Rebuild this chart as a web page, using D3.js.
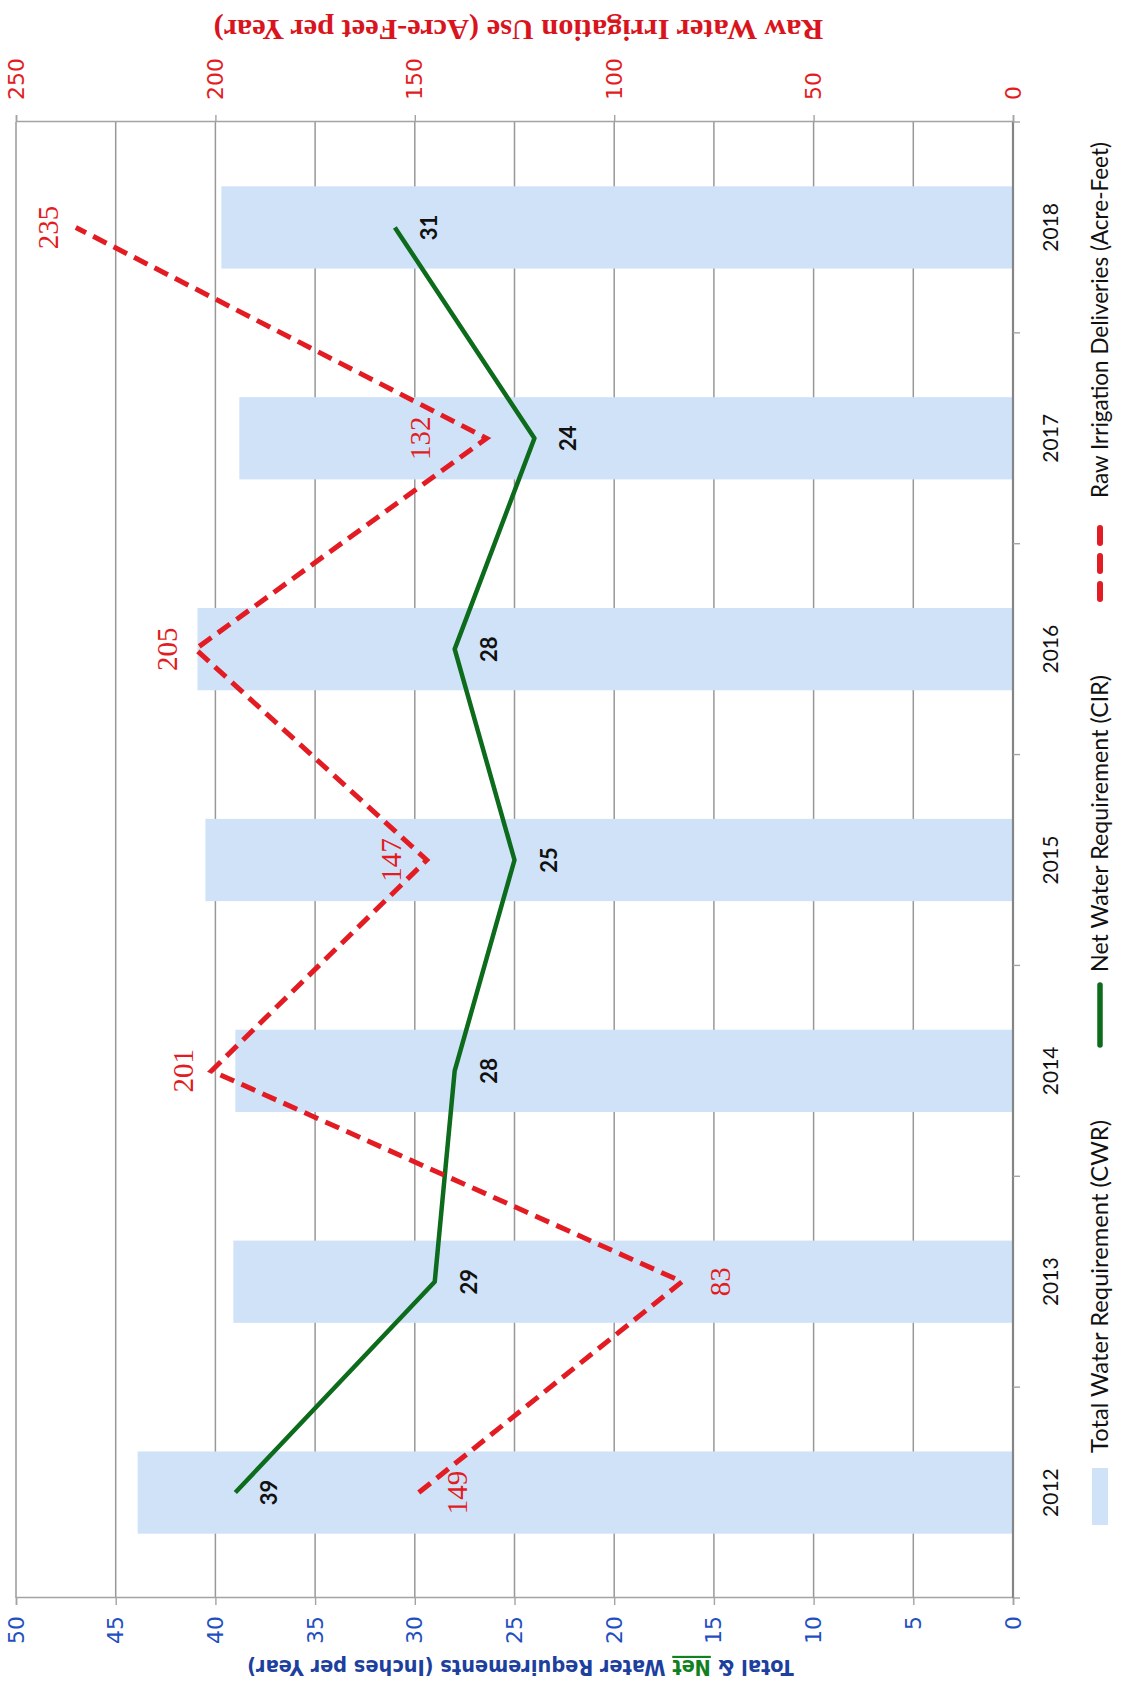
<!DOCTYPE html>
<html>
<head>
<meta charset="utf-8">
<script src="https://cdn.jsdelivr.net/npm/d3@7"></script>
<style>
  html, body { margin: 0; padding: 0; background: #ffffff; }
  svg { display: block; }
</style>
</head>
<body>
<script>
// ---- data ----
const years = ["2012", "2013", "2014", "2015", "2016", "2017", "2018"];
const totalWaterCWR = [43.9, 39.1, 39.0, 40.5, 40.9, 38.8, 39.7];   // inches per year (bars)
const netWaterCIR = [39, 29, 28, 25, 28, 24, 31];                   // inches per year (green line)
const rawDeliveries = [149, 83, 201, 147, 205, 132, 235];           // acre-feet (red dashed line)
const rawLabelSide = ["below", "below", "above", "above", "above", "above", "above"];
const inchTicks = [0, 5, 10, 15, 20, 25, 30, 35, 40, 45, 50];
const acreFeetTicks = [0, 50, 100, 150, 200, 250];
const legendLabels = [
  "Total Water Requirement (CWR)",
  "Net Water Requirement (CIR)",
  "Raw Irrigation Deliveries (Acre-Feet)"
];

// ---- page and chart frame ----
// The chart is laid out in a landscape frame (1690 x 1128) and turned a
// quarter turn counter-clockwise to sit on the portrait page.
const PAGE_W = 1128, PAGE_H = 1690;
const svg = d3.select("body").append("svg")
  .attr("width", PAGE_W).attr("height", PAGE_H)
  .attr("viewBox", `0 0 ${PAGE_W} ${PAGE_H}`);
svg.append("rect").attr("width", PAGE_W).attr("height", PAGE_H).attr("fill", "#ffffff");

const g = svg.append("g").attr("transform", `translate(0,${PAGE_H}) rotate(-90)`);

const plot = { left: 92, right: 1568, top: 16, bottom: 1013 };

const x = d3.scaleBand().domain(years).range([plot.left, plot.right]).padding(0);
const bw = x.bandwidth();
const barW = bw * 0.39;
const yIn = d3.scaleLinear().domain([0, 50]).range([plot.bottom, plot.top]);
const yAf = d3.scaleLinear().domain([0, 250]).range([plot.bottom, plot.top]);
const cx = d => x(d) + bw / 2;

const COLORS = {
  bar: "#cfe2f8",
  grid: "#989898",
  axis: "#a3a3a3",
  catAxis: "#858585",
  green: "#0d6b1c",
  red: "#e31b23",
  blueTick: "#1f4fc0",
  blueTitle: "#1d3f9e",
  redTitle: "#d9141d"
};

const SANS = "Lato, 'Open Sans', 'DejaVu Sans', sans-serif";

function fitLength(sel, target) {
  const fs = parseFloat(sel.attr("font-size"));
  const len = sel.node().getComputedTextLength();
  if (len > 0) sel.attr("font-size", (fs * target / len).toFixed(2));
  return sel;
}

// ---- gridlines (inches) ----
g.append("g").selectAll("line")
  .data(inchTicks.filter(t => t > 0))
  .join("line")
  .attr("x1", plot.left).attr("x2", plot.right)
  .attr("y1", d => yIn(d)).attr("y2", d => yIn(d))
  .attr("stroke", COLORS.grid).attr("stroke-width", 1.5);

// ---- bars: total water requirement ----
g.append("g").selectAll("rect")
  .data(years.map((yr, i) => ({ yr, v: totalWaterCWR[i] })))
  .join("rect")
  .attr("x", d => cx(d.yr) - barW / 2)
  .attr("width", barW)
  .attr("y", d => yIn(d.v))
  .attr("height", d => plot.bottom - yIn(d.v))
  .attr("fill", COLORS.bar);

// ---- primary axis (inches) ----
const axIn = g.append("g")
  .attr("transform", `translate(${plot.left},0)`)
  .call(d3.axisLeft(yIn).tickValues(inchTicks).tickSize(7).tickPadding(11).tickFormat(d3.format("d")));
axIn.select(".domain").attr("stroke", COLORS.axis).attr("stroke-width", 1.6);
axIn.selectAll(".tick line").attr("stroke", COLORS.axis).attr("stroke-width", 1.4);
axIn.selectAll(".tick text")
  .attr("fill", COLORS.blueTick)
  .attr("font-family", "'DejaVu Sans', Verdana, sans-serif")
  .attr("font-size", 22);

// ---- secondary axis (acre-feet) ----
const axAf = g.append("g")
  .attr("transform", `translate(${plot.right},0)`)
  .call(d3.axisRight(yAf).tickValues(acreFeetTicks).tickSize(7).tickPadding(15).tickFormat(d3.format("d")));
axAf.select(".domain").attr("stroke", COLORS.axis).attr("stroke-width", 1.6);
axAf.selectAll(".tick line").attr("stroke", COLORS.axis).attr("stroke-width", 1.4);
axAf.selectAll(".tick text")
  .attr("fill", COLORS.red)
  .attr("font-family", "'DejaVu Sans', Verdana, sans-serif")
  .attr("font-size", 22);

// ---- category axis (years) ----
const axCat = g.append("g").attr("transform", `translate(0,${plot.bottom})`);
axCat.append("line")
  .attr("x1", plot.left).attr("x2", plot.right)
  .attr("stroke", COLORS.catAxis).attr("stroke-width", 2.2);
axCat.selectAll("line.boundary")
  .data(d3.range(years.length + 1))
  .join("line")
  .attr("class", "boundary")
  .attr("x1", i => plot.left + i * bw).attr("x2", i => plot.left + i * bw)
  .attr("y1", 0).attr("y2", 7)
  .attr("stroke", COLORS.axis).attr("stroke-width", 1.4);
axCat.selectAll("text")
  .data(years)
  .join("text")
  .attr("x", d => cx(d))
  .attr("y", 45)
  .attr("text-anchor", "middle")
  .attr("font-family", SANS)
  .attr("font-size", 21)
  .attr("fill", "#111111")
  .text(d => d);

// ---- net water requirement line ----
const netPts = years.map((yr, i) => ({ yr, v: netWaterCIR[i] }));
g.append("path")
  .datum(netPts)
  .attr("fill", "none")
  .attr("stroke", COLORS.green)
  .attr("stroke-width", 4.5)
  .attr("stroke-linejoin", "round")
  .attr("d", d3.line().x(d => cx(d.yr)).y(d => yIn(d.v)));

// ---- raw irrigation deliveries line ----
const rawPts = years.map((yr, i) => ({ yr, v: rawDeliveries[i], side: rawLabelSide[i] }));
g.append("path")
  .datum(rawPts)
  .attr("fill", "none")
  .attr("stroke", COLORS.red)
  .attr("stroke-width", 5)
  .attr("stroke-dasharray", "15,8")
  .attr("stroke-linejoin", "miter")
  .attr("d", d3.line().x(d => cx(d.yr)).y(d => yAf(d.v)));

// ---- data labels ----
g.append("g").selectAll("text")
  .data(netPts)
  .join("text")
  .attr("x", d => cx(d.yr))
  .attr("y", d => yIn(d.v) + 42)
  .attr("text-anchor", "middle")
  .attr("font-family", SANS)
  .attr("font-weight", 700)
  .attr("font-size", 22)
  .attr("fill", "#111111")
  .text(d => d3.format("d")(d.v));

// labels near a steep dashed segment are lifted clear of it
const rawLabelLift = { "2015": 8, "2017": 39 };
g.append("g").selectAll("text")
  .data(rawPts)
  .join("text")
  .attr("x", d => cx(d.yr))
  .attr("y", d => d.side === "below" ? yAf(d.v) + 48 : yAf(d.v) - 18 - (rawLabelLift[d.yr] || 0))
  .attr("text-anchor", "middle")
  .attr("font-family", "'Liberation Serif', 'Times New Roman', serif")
  .attr("font-size", 29)
  .attr("fill", COLORS.red)
  .text(d => d3.format("d")(d.v));

// ---- axis titles ----
const leftTitle = g.append("text")
  .attr("transform", `translate(30,${(plot.top + plot.bottom) / 2 + 6}) rotate(-90)`)
  .attr("text-anchor", "middle")
  .attr("font-family", "'DejaVu Sans Condensed', 'DejaVu Sans', sans-serif")
  .attr("font-stretch", "condensed")
  .attr("font-weight", 700)
  .attr("font-size", 19)
  .attr("fill", COLORS.blueTitle);
leftTitle.append("tspan").text("Total & ");
leftTitle.append("tspan").attr("fill", "#11801f").attr("text-decoration", "underline").text("Net");
leftTitle.append("tspan").text(" Water Requirements (Inches per Year)");
fitLength(leftTitle, 547);

const rightTitle = g.append("text")
  .attr("transform", `translate(1670,${(plot.top + plot.bottom) / 2 + 4}) rotate(-90)`)
  .attr("text-anchor", "middle")
  .attr("font-family", "'Liberation Serif', 'Times New Roman', serif")
  .attr("font-weight", 700)
  .attr("font-size", 24)
  .attr("fill", COLORS.redTitle)
  .text("Raw Water Irrigation Use (Acre-Feet per Year)");
fitLength(rightTitle, 610);

// ---- legend ----
const legY = 1100;
const leg = g.append("g");
leg.append("rect")
  .attr("x", 165).attr("y", legY - 8).attr("width", 57).attr("height", 16)
  .attr("fill", COLORS.bar);
leg.append("line")
  .attr("x1", 645).attr("x2", 705).attr("y1", legY).attr("y2", legY)
  .attr("stroke", COLORS.green).attr("stroke-width", 5.5).attr("stroke-linecap", "round");
leg.append("line")
  .attr("x1", 1091).attr("x2", 1174).attr("y1", legY).attr("y2", legY)
  .attr("stroke", COLORS.red).attr("stroke-width", 6)
  .attr("stroke-dasharray", "15,13").attr("stroke-linecap", "round");

const legStarts = [237, 718, 1192];
const legEnds = [570, 1015, 1548];
legendLabels.forEach((txt, i) => {
  const t = leg.append("text")
    .attr("x", legStarts[i]).attr("y", legY + 8)
    .attr("font-family", SANS)
    .attr("font-size", 23)
    .attr("fill", "#111111")
    .text(txt);
  fitLength(t, legEnds[i] - legStarts[i]);
});
</script>
</body>
</html>
